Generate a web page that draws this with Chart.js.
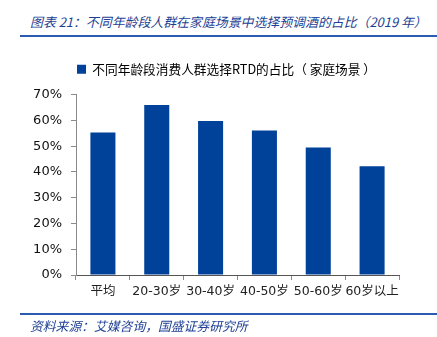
<!DOCTYPE html>
<html>
<head>
<meta charset="utf-8">
<script src="https://cdn.jsdelivr.net/npm/chart.js@4"></script>
<style>
  html, body { margin: 0; padding: 0; background: #fff; }
  #wrap { position: relative; width: 437px; height: 337px; overflow: hidden; }
  #chart { position: absolute; left: 0; top: 0; }
  .caption {
    position: absolute;
    color: #1e3f94;
    font-family: "Noto Sans CJK SC", sans-serif;
    font-style: italic;
    white-space: nowrap;
  }
  #title { left: 30px; top: 12px; font-size: 12.9px; }
  #source { left: 30px; top: 316px; font-size: 12.8px; }
  .rule { position: absolute; left: 20px; width: 417px; height: 2px; background: #2a5bb0; }
</style>
</head>
<body>
<div id="wrap">
  <div id="title" class="caption">图表 21：不同年龄段人群在家庭场景中选择预调酒的占比（2019 年）</div>
  <div class="rule" style="top:35px"></div>
  <canvas id="chart" width="437" height="337"></canvas>
  <div class="rule" style="top:313px"></div>
  <div id="source" class="caption">资料来源：艾媒咨询，国盛证券研究所</div>
</div>
<script>
// age groups and share choosing RTD at home (%)
const categories = ['平均', '20-30岁', '30-40岁', '40-50岁', '50-60岁', '60岁以上'];
const shares = [55.3, 66.0, 59.8, 56.1, 49.5, 42.2];
const seriesName = '不同年龄段消费人群选择RTD的占比（ 家庭场景 ）';
const yTicks = [0, 10, 20, 30, 40, 50, 60, 70];

const barColor = '#00419a';
const axisColor = '#8a8a8a';
const fontFamily = '"DejaVu Sans", "Noto Sans CJK SC", sans-serif';

// extra room under the legend, and nudge it right so it sits over the bars
const legendTweak = {
  id: 'legendTweak',
  beforeInit(chart) {
    const fit = chart.legend.fit;
    chart.legend.fit = function () {
      fit.call(this);
      this.height += 9;
    };
  },
  afterLayout(chart) {
    chart.legend.left += 54;
  }
};

new Chart(document.getElementById('chart'), {
  type: 'bar',
  data: {
    labels: categories,
    datasets: [{
      label: seriesName,
      data: shares,
      backgroundColor: barColor,
      borderWidth: 0,
      categoryPercentage: 0.93,
      barPercentage: 0.5
    }]
  },
  options: {
    responsive: false,
    animation: false,
    layout: { padding: { top: 47, left: 0, right: 38, bottom: 0 } },
    plugins: {
      legend: {
        display: true,
        position: 'top',
        labels: {
          boxWidth: 9,
          boxHeight: 9,
          padding: 16,
          color: '#000',
          font: { family: '"Noto Sans CJK SC", "DejaVu Sans", sans-serif', size: 12.7 }
        }
      },
      tooltip: { enabled: false }
    },
    scales: {
      x: {
        offset: true,
        grid: {
          offset: true,
          drawOnChartArea: false,
          drawTicks: true,
          tickLength: 5,
          color: axisColor
        },
        border: { color: '#555', width: 1 },
        ticks: {
          color: '#222',
          padding: 4,
          autoSkip: false,
          maxRotation: 0,
          font: { family: fontFamily, size: 12.5 }
        },
        afterFit: s => { s.height = 62; }
      },
      y: {
        min: 0,
        max: 70,
        afterBuildTicks: s => { s.ticks = yTicks.map(v => ({ value: v })); },
        grid: {
          drawOnChartArea: false,
          drawTicks: true,
          tickLength: 5,
          color: axisColor
        },
        border: { color: axisColor, width: 1 },
        ticks: {
          color: '#111',
          padding: 9,
          font: { family: fontFamily, size: 13 },
          callback: v => v + '%'
        },
        afterFit: s => { s.width = 76; }
      }
    }
  },
  plugins: [legendTweak]
});
</script>
</body>
</html>
